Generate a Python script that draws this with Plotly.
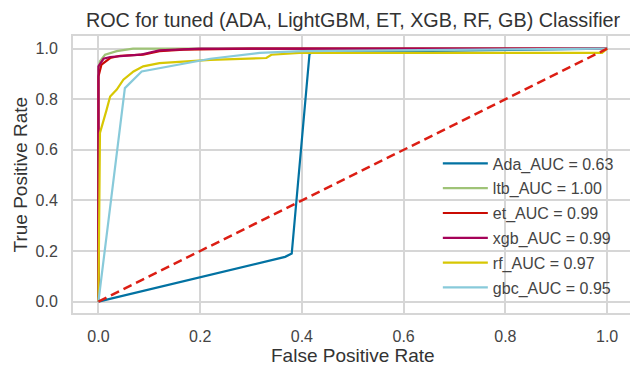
import plotly.graph_objects as go

# ---- data ----
ada_fpr = [0.0, 0.367, 0.38, 0.415, 0.42, 1.0]
ada_tpr = [0.0, 0.177, 0.19, 0.98, 0.985, 1.0]

ltb_fpr = [0.0, 0.0, 0.003, 0.013, 0.036, 0.068, 0.2, 1.0]
ltb_tpr = [0.0, 0.917, 0.95, 0.976, 0.99, 1.0, 1.0, 1.0]

et_fpr = [0.0, 0.0, 0.006, 0.023, 0.043, 0.088, 0.12, 0.167, 0.3, 1.0]
et_tpr = [0.0, 0.89, 0.937, 0.963, 0.972, 0.976, 0.99, 0.996, 1.0, 1.0]

xgb_fpr = [0.0, 0.0, 0.0, 0.01, 0.023, 0.082, 0.12, 0.2, 1.0]
xgb_tpr = [0.0, 0.28, 0.93, 0.96, 0.967, 0.976, 0.993, 1.0, 1.0]

rf_fpr = [0.0, 0.003, 0.016, 0.023, 0.036, 0.049, 0.069, 0.088, 0.12, 0.22, 0.33, 0.34, 0.395, 0.99, 1.0]
rf_tpr = [0.0, 0.667, 0.758, 0.811, 0.838, 0.877, 0.91, 0.93, 0.943, 0.956, 0.963, 0.976, 0.983, 0.983, 1.0]

gbc_fpr = [0.0, 0.052, 0.085, 0.22, 0.317, 0.4, 1.0]
gbc_tpr = [0.0, 0.844, 0.91, 0.96, 0.983, 0.99, 1.0]

diag = [0.0, 1.0]

names = ["Ada_AUC = 0.63", "ltb_AUC = 1.00", "et_AUC = 0.99",
         "xgb_AUC = 0.99", "rf_AUC = 0.97", "gbc_AUC = 0.95"]
colors = ["#0272a2", "#9fc377", "#ca0b03", "#a50258", "#d7c703", "#88cada"]

x_ticks = [0.0, 0.2, 0.4, 0.6, 0.8, 1.0]
y_ticks = [0.0, 0.2, 0.4, 0.6, 0.8, 1.0]

series = [(ada_fpr, ada_tpr), (ltb_fpr, ltb_tpr), (et_fpr, et_tpr),
          (xgb_fpr, xgb_tpr), (rf_fpr, rf_tpr), (gbc_fpr, gbc_tpr)]

FONT = "Liberation Sans, Arial, sans-serif"
GRID = "#d6d6d6"
TXT = "#444444"

L, T, B = 73, 36, 56
PW, PH = 630 - L, 369 - T - B

fig = go.Figure()
for i, ((fx, ty), nm, c) in enumerate(zip(series, names, colors)):
    fig.add_trace(go.Scatter(x=fx, y=ty, mode="lines", name=nm,
                             line=dict(color=c, width=2.2),
                             legendgroup=f"g{i}"))
fig.add_trace(go.Scatter(x=diag, y=diag, mode="lines", showlegend=False,
                         line=dict(color="#dc1e14", width=2.5, dash="9px,5px")))

fig.update_layout(
    width=630, height=369,
    margin=dict(l=L, r=0, t=T, b=B, autoexpand=False),
    paper_bgcolor="white", plot_bgcolor="white",
    font=dict(family=FONT, color=TXT, size=16),
    title=dict(text="ROC for tuned (ADA, LightGBM, ET, XGB, RF, GB) Classifier",
               x=(353 - L) / PW, xanchor="center", y=1 - 20 / 369, yanchor="middle",
               xref="paper", yref="container",
               font=dict(size=19.8, color="#333333", family=FONT)),
    legend=dict(x=0.655, xanchor="left", y=(313 - 225.5) / PH, yanchor="middle",
                bgcolor="rgba(0,0,0,0)", borderwidth=0,
                font=dict(size=16, color=TXT, family=FONT),
                itemwidth=45, tracegroupgap=1),
    xaxis=dict(range=[-0.05, 1.045], tickvals=x_ticks,
               ticktext=[f"{v:.1f}" for v in x_ticks],
               showgrid=True, gridcolor=GRID, gridwidth=1.6,
               zeroline=False, showline=True, linecolor=GRID, linewidth=2,
               mirror=True, ticks="", ticklabelstandoff=8,
               tickfont=dict(size=16, color=TXT)),
    yaxis=dict(range=[-0.045, 1.05], tickvals=y_ticks,
               ticktext=[f"{v:.1f}" for v in y_ticks],
               showgrid=True, gridcolor=GRID, gridwidth=1.6,
               zeroline=False, showline=True, linecolor=GRID, linewidth=2,
               mirror=True, ticks="", ticklabelstandoff=10,
               tickfont=dict(size=16, color=TXT)),
    annotations=[
        dict(text="False Positive Rate", xref="paper", yref="paper",
             x=(353 - L) / PW, y=-(355 - 313) / PH, xanchor="center", yanchor="middle",
             showarrow=False, font=dict(size=19, color="#333333", family=FONT)),
        dict(text="True Positive Rate", xref="paper", yref="paper",
             x=-(L - 20) / PW, y=0.5, xanchor="center", yanchor="middle",
             textangle=-90, showarrow=False,
             font=dict(size=19, color="#333333", family=FONT)),
    ],
)

fig.write_html("out.html", config={"displayModeBar": False},
               post_script="document.body.style.margin='0';")
